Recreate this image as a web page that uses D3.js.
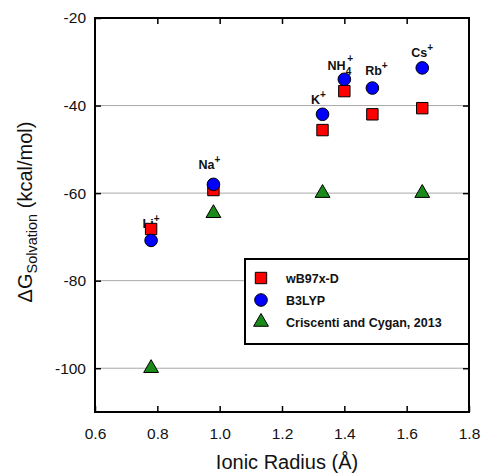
<!DOCTYPE html>
<html>
<head>
<meta charset="utf-8">
<script src="https://cdn.jsdelivr.net/npm/d3@7"></script>
<style>
  body { margin: 0; background: #fff; }
  text { font-family: Arial, "Liberation Sans", sans-serif; }
</style>
</head>
<body>
<svg width="482" height="474"></svg>
<script>
// ions and their ionic radii (Å)
var ions = ["Li", "Na", "K", "NH4", "Rb", "Cs"];
var radii = [0.78, 0.98, 1.33, 1.40, 1.49, 1.65];

// solvation free energy (kcal/mol)
var wb97xd = [-68.2, -59.3, -45.6, -36.7, -42.0, -40.6];
var b3lyp = [-70.8, -58.0, -42.0, -34.0, -36.0, -31.4];
var criscenti = [-100, -64.6, -60, null, null, -60];

var xTicks = [0.6, 0.8, 1.0, 1.2, 1.4, 1.6, 1.8];
var yTicks = [-20, -40, -60, -80, -100];
var gridValues = [-40, -60, -80, -100];

var seriesNames = ["wB97x-D", "B3LYP", "Criscenti and Cygan, 2013"];

var svg = d3.select("svg");

var plotLeft = 95, plotRight = 469, plotTop = 18, plotBottom = 412;

var x = d3.scaleLinear().domain([0.6, 1.8]).range([plotLeft, plotRight]);
var y = d3.scaleLinear().domain([-110, -20]).range([plotBottom, plotTop]);

// grid lines
svg.append("g").selectAll("line")
    .data(gridValues)
    .enter().append("line")
    .attr("x1", plotLeft).attr("x2", plotRight)
    .attr("y1", d => y(d)).attr("y2", d => y(d))
    .attr("stroke", "#a8a8a8")
    .attr("stroke-width", 1);

// axes with inward ticks
function styleAxis(g) {
    g.select(".domain").remove();
    g.selectAll(".tick line").attr("stroke", "#000").attr("stroke-width", 1.5);
    g.selectAll("text").attr("fill", "#111").style("font-size", "15.5px");
}

svg.append("g")
    .attr("transform", "translate(0," + plotBottom + ")")
    .call(d3.axisBottom(x).tickValues(xTicks).tickFormat(d3.format(".1f"))
        .tickSizeInner(-6).tickSizeOuter(0).tickPadding(16))
    .call(styleAxis);

svg.append("g")
    .attr("transform", "translate(0," + plotTop + ")")
    .call(d3.axisTop(x).tickValues(xTicks.slice(1, -1)).tickFormat("")
        .tickSizeInner(-6).tickSizeOuter(0))
    .call(styleAxis);

svg.append("g")
    .attr("transform", "translate(" + plotLeft + ",0)")
    .call(d3.axisLeft(y).tickValues(yTicks).tickFormat(d => String(d))
        .tickSizeInner(-6).tickSizeOuter(0).tickPadding(9))
    .call(styleAxis);

svg.append("g")
    .attr("transform", "translate(" + plotRight + ",0)")
    .call(d3.axisRight(y).tickValues(yTicks.slice(1)).tickFormat("")
        .tickSizeInner(-6).tickSizeOuter(0))
    .call(styleAxis);

// frame
svg.append("rect")
    .attr("x", plotLeft).attr("y", plotTop)
    .attr("width", plotRight - plotLeft).attr("height", plotBottom - plotTop)
    .attr("fill", "none")
    .attr("stroke", "#000")
    .attr("stroke-width", 2);

// ion labels (drawn before markers, Li label sits behind the square)
var labelOffsets = [
    { dx: 0, dy: -1 },
    { dx: -4, dy: -15 },
    { dx: -4, dy: -10 },
    { dx: -4, dy: -9 },
    { dx: 4, dy: -13 },
    { dx: 0, dy: -11 }
];

var labels = svg.append("g")
    .selectAll("text")
    .data(ions)
    .enter().append("text")
    .attr("x", (d, i) => x(radii[i]) + labelOffsets[i].dx)
    .attr("y", (d, i) => y(Math.max(wb97xd[i], b3lyp[i])) + labelOffsets[i].dy)
    .attr("text-anchor", "middle")
    .style("font-size", "12.5px")
    .style("font-weight", "bold")
    .attr("fill", "#111");

labels.each(function (d) {
    var t = d3.select(this);
    if (d === "NH4") {
        t.append("tspan").text("NH");
        t.append("tspan").text("4").attr("dy", 5).style("font-size", "10px");
        t.append("tspan").text("+").attr("dy", -13).attr("dx", -4).style("font-size", "10px");
    } else {
        t.append("tspan").text(d);
        t.append("tspan").text("+").attr("dy", -6).style("font-size", "10px");
    }
});

var squareSym = d3.symbol().type(d3.symbolSquare).size(130);
var circleSym = d3.symbol().type(d3.symbolCircle).size(125);
var triSym = d3.symbol().type(d3.symbolTriangle).size(95);

var red = "#ff0000", blue = "#0000ff", green = "#1a8a1a";

function plotSeries(values, sym, color) {
    svg.append("g").selectAll("path")
        .data(radii.map((r, i) => [r, values[i]]).filter(d => d[1] !== null))
        .enter().append("path")
        .attr("d", sym)
        .attr("transform", d => "translate(" + x(d[0]) + "," + y(d[1]) + ")")
        .attr("fill", color)
        .attr("stroke", "#000")
        .attr("stroke-width", 1);
}

plotSeries(criscenti, triSym, green);
plotSeries(wb97xd, squareSym, red);
plotSeries(b3lyp, circleSym, blue);

// legend
var legend = svg.append("g");
legend.append("rect")
    .attr("x", 245).attr("y", 259)
    .attr("width", 224).attr("height", 85)
    .attr("fill", "#fff")
    .attr("stroke", "#000")
    .attr("stroke-width", 2);

var legendSyms = [squareSym, circleSym, triSym];
var legendColors = [red, blue, green];

seriesNames.forEach(function (name, i) {
    var ly = 278 + i * 22;
    legend.append("path")
        .attr("d", legendSyms[i])
        .attr("transform", "translate(261," + ly + ")")
        .attr("fill", legendColors[i])
        .attr("stroke", "#000")
        .attr("stroke-width", 1);
    legend.append("text")
        .attr("x", 286).attr("y", ly + 4.5)
        .style("font-size", "12.5px")
        .style("font-weight", "bold")
        .attr("fill", "#111")
        .text(name);
});

// axis titles
svg.append("text")
    .attr("x", 287).attr("y", 469)
    .attr("text-anchor", "middle")
    .style("font-size", "20px")
    .attr("fill", "#111")
    .text("Ionic Radius (Å)");

var yTitle = svg.append("text")
    .attr("transform", "translate(32,212) rotate(-90)")
    .attr("text-anchor", "middle")
    .style("font-size", "20px")
    .attr("fill", "#111");
yTitle.append("tspan").text("ΔG");
yTitle.append("tspan").text("Solvation").attr("dy", 5).style("font-size", "14.5px");
yTitle.append("tspan").text(" (kcal/mol)").attr("dy", -5);
</script>
</body>
</html>
